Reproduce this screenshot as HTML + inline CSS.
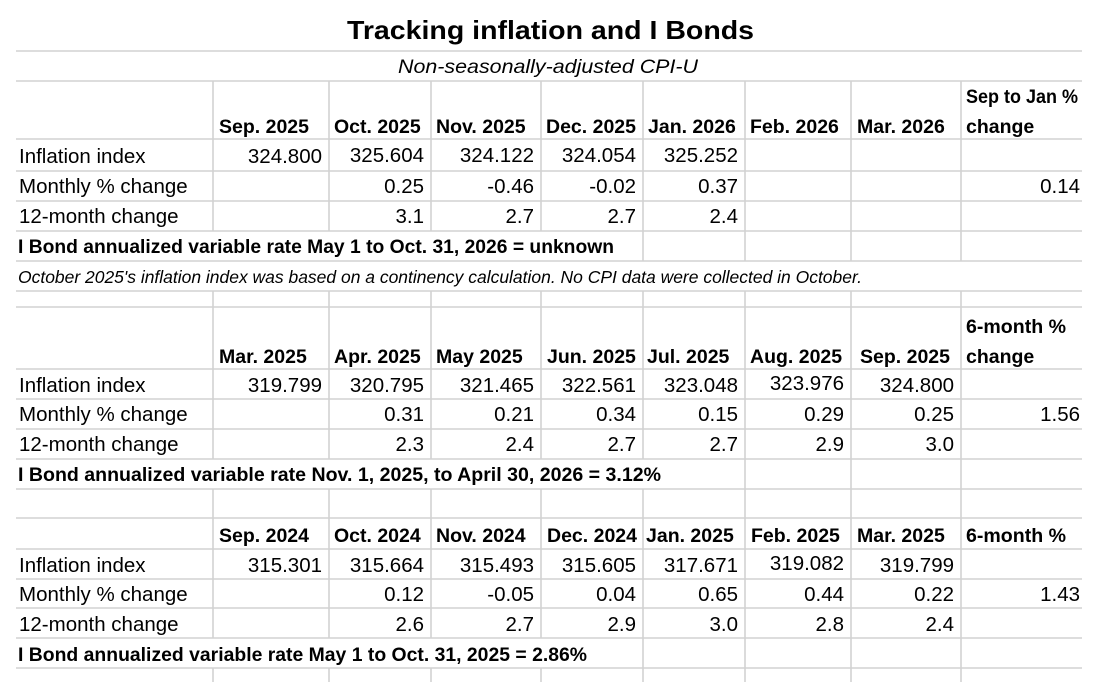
<!DOCTYPE html>
<html><head><meta charset="utf-8">
<style>
html,body{margin:0;padding:0;background:#fff;}
svg{display:block;}
text{font-family:"Liberation Sans",Arial,sans-serif;fill:#000;}
.b{font-weight:bold;font-size:19.5px;}
.n{font-size:20.5px;}
.r{text-anchor:end;}
</style></head>
<body>
<svg width="1104" height="682" viewBox="0 0 1104 682" xmlns="http://www.w3.org/2000/svg">
<rect width="1104" height="682" fill="#fff"/>
<g stroke="#d2d2d2" stroke-width="1.6">
<line x1="16" x2="1082" y1="51" y2="51"/>
<line x1="16" x2="1082" y1="81" y2="81"/>
<line x1="16" x2="1082" y1="139" y2="139"/>
<line x1="16" x2="1082" y1="171" y2="171"/>
<line x1="16" x2="1082" y1="201" y2="201"/>
<line x1="16" x2="1082" y1="231" y2="231"/>
<line x1="16" x2="1082" y1="261" y2="261"/>
<line x1="16" x2="1082" y1="291" y2="291"/>
<line x1="16" x2="1082" y1="307" y2="307"/>
<line x1="16" x2="1082" y1="369" y2="369"/>
<line x1="16" x2="1082" y1="399" y2="399"/>
<line x1="16" x2="1082" y1="429" y2="429"/>
<line x1="16" x2="1082" y1="459" y2="459"/>
<line x1="16" x2="1082" y1="489" y2="489"/>
<line x1="16" x2="1082" y1="518" y2="518"/>
<line x1="16" x2="1082" y1="549" y2="549"/>
<line x1="16" x2="1082" y1="579" y2="579"/>
<line x1="16" x2="1082" y1="608" y2="608"/>
<line x1="16" x2="1082" y1="638" y2="638"/>
<line x1="16" x2="1082" y1="668" y2="668"/>
<!-- verticals -->
<line x1="213" x2="213" y1="81" y2="231"/>
<line x1="329" x2="329" y1="81" y2="231"/>
<line x1="431" x2="431" y1="81" y2="231"/>
<line x1="541" x2="541" y1="81" y2="231"/>
<line x1="643" x2="643" y1="81" y2="261"/>
<line x1="745" x2="745" y1="81" y2="261"/>
<line x1="851" x2="851" y1="81" y2="261"/>
<line x1="961" x2="961" y1="81" y2="261"/>

<line x1="213" x2="213" y1="291" y2="459"/>
<line x1="329" x2="329" y1="291" y2="459"/>
<line x1="431" x2="431" y1="291" y2="459"/>
<line x1="541" x2="541" y1="291" y2="459"/>
<line x1="643" x2="643" y1="291" y2="459"/>
<line x1="745" x2="745" y1="291" y2="489"/>
<line x1="851" x2="851" y1="291" y2="489"/>
<line x1="961" x2="961" y1="291" y2="489"/>

<line x1="213" x2="213" y1="489" y2="638"/>
<line x1="329" x2="329" y1="489" y2="638"/>
<line x1="431" x2="431" y1="489" y2="638"/>
<line x1="541" x2="541" y1="489" y2="638"/>
<line x1="643" x2="643" y1="489" y2="682"/>
<line x1="745" x2="745" y1="489" y2="682"/>
<line x1="851" x2="851" y1="489" y2="682"/>
<line x1="961" x2="961" y1="489" y2="682"/>
<line x1="213" x2="213" y1="668" y2="682"/>
<line x1="329" x2="329" y1="668" y2="682"/>
<line x1="431" x2="431" y1="668" y2="682"/>
<line x1="541" x2="541" y1="668" y2="682"/>
</g>

<!-- Title -->
<text x="347" y="39" font-weight="bold" font-size="26" textLength="407" lengthAdjust="spacingAndGlyphs">Tracking inflation and I Bonds</text>
<text x="398" y="73" font-style="italic" font-size="19" textLength="300" lengthAdjust="spacingAndGlyphs">Non-seasonally-adjusted CPI-U</text>

<!-- Table 1 header -->
<g class="b">
<text x="219" y="133">Sep. 2025</text>
<text x="334" y="133">Oct. 2025</text>
<text x="436" y="133">Nov. 2025</text>
<text x="546" y="133">Dec. 2025</text>
<text x="648" y="133">Jan. 2026</text>
<text x="750" y="133">Feb. 2026</text>
<text x="857" y="133">Mar. 2026</text>
<text x="966" y="103" textLength="112" lengthAdjust="spacingAndGlyphs">Sep to Jan %</text>
<text x="966" y="133">change</text>
</g>
<g class="n">
<text x="19" y="163">Inflation index</text>
<text x="19" y="193">Monthly % change</text>
<text x="19" y="223">12-month change</text>
</g>
<g class="n r">
<text x="322" y="163">324.800</text>
<text x="424" y="162">325.604</text>
<text x="534" y="162">324.122</text>
<text x="636" y="162">324.054</text>
<text x="738" y="162">325.252</text>
<text x="424" y="193">0.25</text>
<text x="534" y="193">-0.46</text>
<text x="636" y="193">-0.02</text>
<text x="738" y="193">0.37</text>
<text x="1080" y="193">0.14</text>
<text x="424" y="223">3.1</text>
<text x="534" y="223">2.7</text>
<text x="636" y="223">2.7</text>
<text x="738" y="223">2.4</text>
</g>
<text class="b" x="18" y="253" textLength="596" lengthAdjust="spacingAndGlyphs">I Bond annualized variable rate May 1 to Oct. 31, 2026 = unknown</text>
<text x="18" y="283" font-style="italic" font-size="17.5" textLength="844" lengthAdjust="spacingAndGlyphs">October 2025's inflation index was based on a continency calculation. No CPI data were collected in October.</text>

<!-- Table 2 header -->
<g class="b">
<text x="219" y="363">Mar. 2025</text>
<text x="334" y="363">Apr. 2025</text>
<text x="436" y="363">May 2025</text>
<text x="547" y="363">Jun. 2025</text>
<text x="647" y="363">Jul. 2025</text>
<text x="750" y="363">Aug. 2025</text>
<text x="860" y="363">Sep. 2025</text>
<text x="966" y="333" textLength="100" lengthAdjust="spacingAndGlyphs">6-month %</text>
<text x="966" y="363">change</text>
</g>
<g class="n">
<text x="19" y="392">Inflation index</text>
<text x="19" y="421">Monthly % change</text>
<text x="19" y="451">12-month change</text>
</g>
<g class="n r">
<text x="322" y="392">319.799</text>
<text x="424" y="392">320.795</text>
<text x="534" y="392">321.465</text>
<text x="636" y="392">322.561</text>
<text x="738" y="392">323.048</text>
<text x="844" y="390">323.976</text>
<text x="954" y="392">324.800</text>
<text x="424" y="421">0.31</text>
<text x="534" y="421">0.21</text>
<text x="636" y="421">0.34</text>
<text x="738" y="421">0.15</text>
<text x="844" y="421">0.29</text>
<text x="954" y="421">0.25</text>
<text x="1080" y="421">1.56</text>
<text x="424" y="451">2.3</text>
<text x="534" y="451">2.4</text>
<text x="636" y="451">2.7</text>
<text x="738" y="451">2.7</text>
<text x="844" y="451">2.9</text>
<text x="954" y="451">3.0</text>
</g>
<text class="b" x="18" y="481" textLength="643" lengthAdjust="spacingAndGlyphs">I Bond annualized variable rate Nov. 1, 2025, to April 30, 2026 = 3.12%</text>

<!-- Table 3 header -->
<g class="b">
<text x="219" y="542">Sep. 2024</text>
<text x="334" y="542">Oct. 2024</text>
<text x="436" y="542">Nov. 2024</text>
<text x="547" y="542">Dec. 2024</text>
<text x="646" y="542">Jan. 2025</text>
<text x="751" y="542">Feb. 2025</text>
<text x="857" y="542">Mar. 2025</text>
<text x="966" y="542" textLength="100" lengthAdjust="spacingAndGlyphs">6-month %</text>
</g>
<g class="n">
<text x="19" y="572">Inflation index</text>
<text x="19" y="601">Monthly % change</text>
<text x="19" y="631">12-month change</text>
</g>
<g class="n r">
<text x="322" y="572">315.301</text>
<text x="424" y="572">315.664</text>
<text x="534" y="572">315.493</text>
<text x="636" y="572">315.605</text>
<text x="738" y="572">317.671</text>
<text x="844" y="570">319.082</text>
<text x="954" y="572">319.799</text>
<text x="424" y="601">0.12</text>
<text x="534" y="601">-0.05</text>
<text x="636" y="601">0.04</text>
<text x="738" y="601">0.65</text>
<text x="844" y="601">0.44</text>
<text x="954" y="601">0.22</text>
<text x="1080" y="601">1.43</text>
<text x="424" y="631">2.6</text>
<text x="534" y="631">2.7</text>
<text x="636" y="631">2.9</text>
<text x="738" y="631">3.0</text>
<text x="844" y="631">2.8</text>
<text x="954" y="631">2.4</text>
</g>
<text class="b" x="18" y="661" textLength="569" lengthAdjust="spacingAndGlyphs">I Bond annualized variable rate May 1 to Oct. 31, 2025 = 2.86%</text>
</svg>
</body></html>
